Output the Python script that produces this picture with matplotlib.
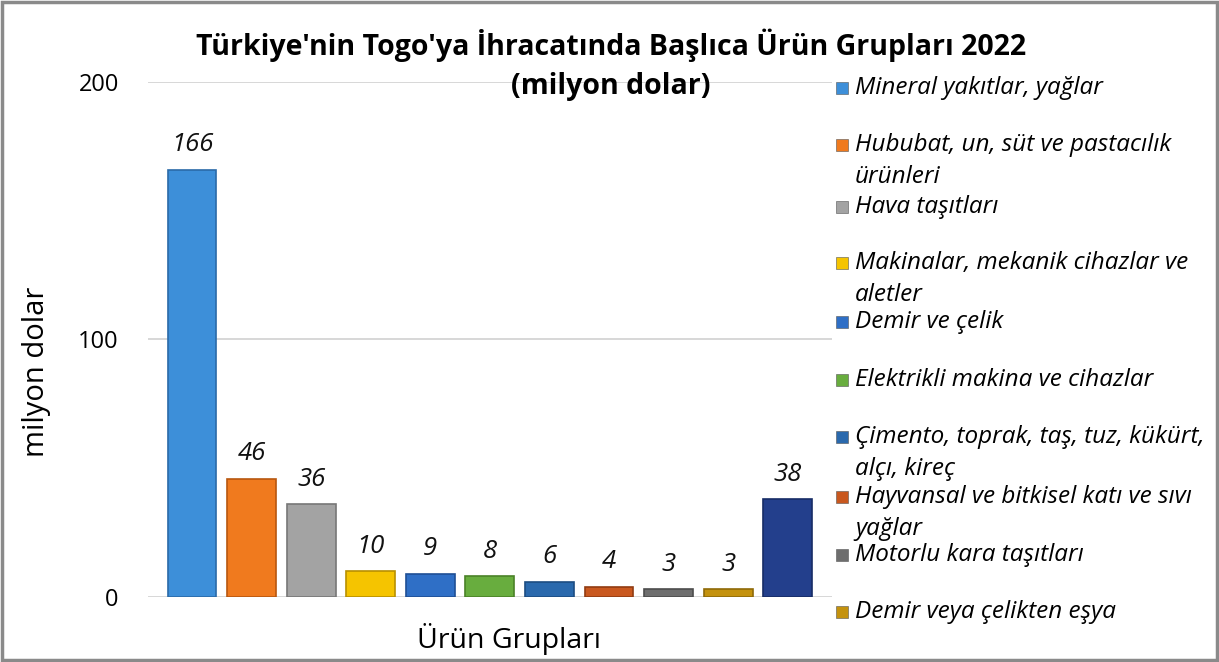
import matplotlib.pyplot as plt
from matplotlib.patches import Rectangle

plt.rcParams['font.family'] = ['Open Sans', 'DejaVu Sans']

# data
urunler = [
    'Mineral yakıtlar, yağlar',
    'Hububat, un, süt ve pastacılık\nürünleri',
    'Hava taşıtları',
    'Makinalar, mekanik cihazlar ve\naletler',
    'Demir ve çelik',
    'Elektrikli makina ve cihazlar',
    'Çimento, toprak, taş, tuz, kükürt,\nalçı, kireç',
    'Hayvansal ve bitkisel katı ve sıvı\nyağlar',
    'Motorlu kara taşıtları',
    'Demir veya çelikten eşya',
    'Diğer',
]
degerler = [166, 46, 36, 10, 9, 8, 6, 4, 3, 3, 38]
renkler = ['#3d8fd9', '#f07a1e', '#a3a3a3', '#f5c400', '#2f6fc6', '#68ad3e',
           '#2a69ad', '#c9581f', '#6e6e6e', '#c4920e', '#233f8c']
kenar = ['#2a6aa8', '#b8570f', '#777777', '#b89000', '#1f4f95', '#4a8228',
         '#1c4d82', '#913c12', '#4d4d4d', '#8f6a08', '#172c66']

fig = plt.figure(figsize=(12.19, 6.62), dpi=100)
ax = fig.add_axes([0.1214, 0.0982, 0.561, 0.778])

x = list(range(len(degerler)))
bars = ax.bar(x, degerler, width=0.82, color=renkler, edgecolor=kenar, linewidth=1.2, zorder=3)

for b, v in zip(bars, degerler):
    ax.annotate(str(v), (b.get_x() + b.get_width() / 2, v), xytext=(0, 9),
                textcoords='offset points', ha='center', va='bottom',
                fontsize=18.5, style='italic', color='#111111')

ax.set_xlim(-0.74, 10.74)
ax.set_ylim(0, 200)
ax.set_yticks([0, 100, 200])
ax.set_xticks([])
ax.tick_params(axis='y', length=0, labelsize=17, pad=21)
ax.yaxis.grid(True, color='#d4d4d4', linewidth=1.3, zorder=0)
for s in ax.spines.values():
    s.set_visible(False)

ax.set_ylabel('milyon dolar', fontsize=21)
ax.yaxis.set_label_coords(-0.142, 0.437)
ax.set_xlabel('Ürün Grupları', fontsize=20.5)
ax.xaxis.set_label_coords(0.528, -0.05)

fig.text(0.501, 0.932, "Türkiye'nin Togo'ya İhracatında Başlıca Ürün Grupları 2022",
         ha='center', va='center', fontsize=20.5, fontweight='bold')
fig.text(0.501, 0.870, '(milyon dolar)', ha='center', va='center',
         fontsize=20.5, fontweight='bold')

# legend (first ten groups)
leg_y = [88, 145, 207, 263, 322, 380, 437, 497, 555, 612]
for lab, c, y in zip(urunler[:10], renkler, leg_y):
    fig.patches.append(Rectangle((836 / 1219, 1 - (y + 6) / 662), 12 / 1219, 12 / 662,
                                 transform=fig.transFigure, facecolor=c,
                                 edgecolor='#555555', linewidth=0.4))
    for i, ln in enumerate(lab.split('\n')):
        fig.text(855 / 1219, 1 - (y + 32 * i) / 662, ln, ha='left', va='center',
                 fontsize=17.5, style='italic')

fig.patches.append(Rectangle((0.002, 0.003), 0.996, 0.994, transform=fig.transFigure,
                             fill=False, edgecolor='#8a8a8a', linewidth=2.5))

fig.savefig('out.png', dpi=100)
